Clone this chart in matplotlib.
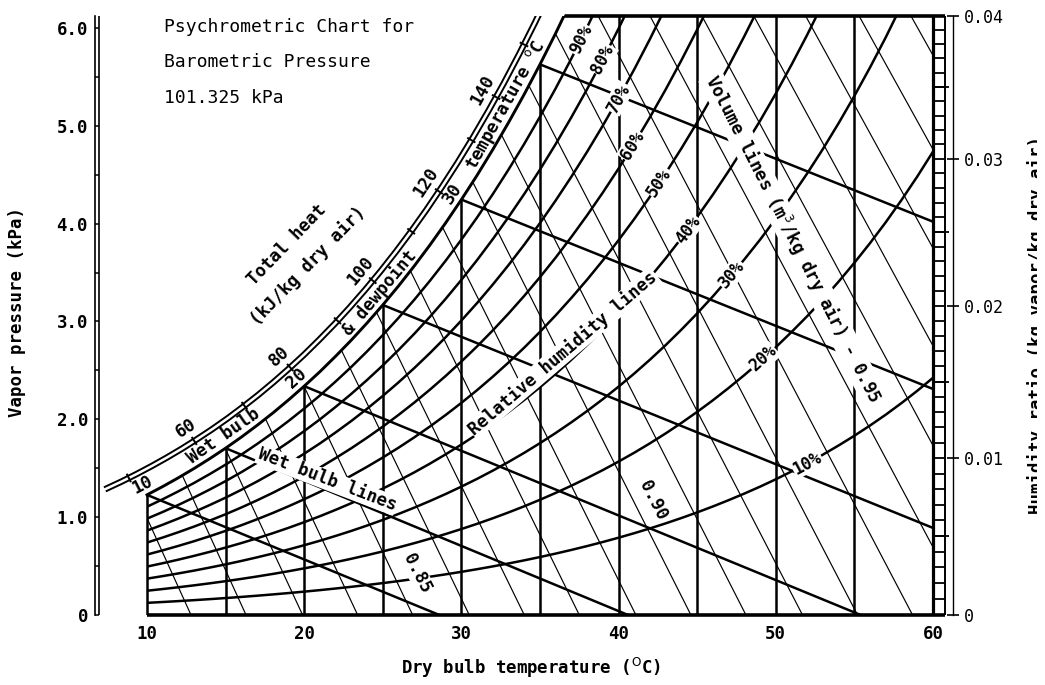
import numpy as np
import matplotlib.pyplot as plt
from matplotlib.patches import Polygon
from matplotlib.transforms import Bbox

plt.rcParams['font.family'] = ['DejaVu Sans Mono', 'DejaVu Sans']
plt.rcParams['mathtext.fontset'] = 'dejavusans'

P_ATM = 101.325  # kPa, barometric pressure of the chart

# saturation (100 %) vapour pressure along the top curve, kPa
sat_temp_c = np.arange(7, 61)
sat_kpa = np.array([1.002, 1.073, 1.148, 1.228, 1.313, 1.403, 1.498, 1.599, 1.705, 1.818,
                    1.938, 2.064, 2.198, 2.339, 2.487, 2.645, 2.810, 2.985, 3.169, 3.363,
                    3.567, 3.782, 4.008, 4.246, 4.495, 4.758, 5.034, 5.323, 5.628, 5.947,
                    6.282, 6.632, 6.999, 7.384, 7.786, 8.208, 8.649, 9.112, 9.595, 10.10,
                    10.63, 11.18, 11.75, 12.35, 12.98, 13.63, 14.31, 15.02, 15.76, 16.53,
                    17.33, 18.17, 19.04, 19.95])

rh_percent = [10, 20, 30, 40, 50, 60, 70, 80, 90]
rh_label_c = [52.0, 49.2, 47.2, 44.4, 42.6, 40.9, 40.0, 39.0, 37.6]

dry_bulb_c = [10, 15, 20, 25, 30, 35, 40, 45, 50, 55, 60]

wet_bulb_c = [10, 15, 20, 25, 30, 35]
wet_bulb_end_c = [28.6, 40.6, 55.4, 60.0, 60.0, 60.0]
wet_bulb_end_kpa = [0.0, 0.0, 0.0, 0.89, 2.31, 4.02]

volume_m3 = [0.81, 0.82, 0.83, 0.84, 0.85, 0.86, 0.87, 0.88, 0.89, 0.90,
             0.91, 0.92, 0.93, 0.94, 0.95, 0.96, 0.97, 0.98, 0.99, 1.00]
volume_bottom_c = [12.8, 16.3, 19.9, 23.4, 26.9, 30.5, 34.0, 37.5, 41.1, 44.6,
                   48.1, 51.7, 55.2, 58.7, 62.3, 65.8, 69.3, 72.8, 76.4, 79.9]
volume_top_c = [-4.5, -1.1, 2.2, 5.5, 8.8, 12.1, 15.4, 18.8, 22.1, 25.4,
                28.7, 32.0, 35.4, 38.7, 42.0, 45.3, 48.6, 51.9, 55.3, 58.6]

# total heat scale: kJ/kg and the dew point it sits beside
heat_kj = [50, 60, 70, 80, 90, 100, 110, 120, 130, 140, 150]
heat_at_c = [9.5, 13.8, 17.1, 20.1, 23.2, 25.5, 28.0, 29.8, 31.9, 33.5, 35.3]

dew_c = [10, 20, 30]

kpa_ticks = [0, 1, 2, 3, 4, 5, 6]
kpa_labels = ['0', '1.0', '2.0', '3.0', '4.0', '5.0', '6.0']
ratio_ticks = [0, 0.01, 0.02, 0.03, 0.04]
ratio_labels = ['0', '0.01', '0.02', '0.03', '0.04']


def ratio_to_kpa(w):
    w = np.asarray(w, dtype=float)
    return P_ATM * w / (0.622 + w)


def kpa_to_ratio(p):
    p = np.asarray(p, dtype=float)
    return 0.622 * p / (P_ATM - p)


P_TOP = float(ratio_to_kpa(0.04))
sat_at = dict(zip(sat_temp_c.tolist(), sat_kpa))

W, H = 1045, 685
fig = plt.figure(figsize=(W / 100, H / 100), dpi=100)


def fx(x):
    return x / W


def fy(y):
    return 1 - y / H


X10, X60 = 147, 933


def tc(px):
    return 10 + (px - X10) * 50 / (X60 - X10)


L, R, B, T = 95, 953, 615, 16
ax = fig.add_axes([fx(L), fy(B), (R - L) / W, (B - T) / H])
ax.set_xlim(tc(L), tc(R))
ax.set_ylim(0, P_TOP)
for s in ['top', 'bottom', 'right']:
    ax.spines[s].set_visible(False)
ax.spines['left'].set_linewidth(1.2)

K = 'black'
THICK = 1.8
THIN = 0.85

# clip region: right of / below the saturation curve
edge = (sat_temp_c >= 10) & (sat_temp_c <= 40)
et, ep = sat_temp_c[edge], sat_kpa[edge]
chart = Polygon(np.column_stack([np.r_[10, et, 60, 60], np.r_[0, ep, ep[-1], 0]]),
                transform=ax.transData)
wide = Polygon(np.column_stack([np.r_[10, et, 63, 63], np.r_[-1, ep, ep[-1], -1]]),
               transform=ax.transData)

# relative humidity curves
sat_ratio = kpa_to_ratio(sat_kpa)
rh_kpa = {}
for rh in rh_percent:
    p = ratio_to_kpa(rh / 100 * sat_ratio)
    line, = ax.plot(sat_temp_c, p, color=K, lw=THICK)
    line.set_clip_path(chart)
    rh_kpa[rh] = p

on_chart = sat_temp_c >= 10
ax.plot(sat_temp_c[on_chart], sat_kpa[on_chart], color=K, lw=THICK + 0.3)

# dry bulb verticals
vl = ax.vlines(dry_bulb_c[1:-1], 0, P_TOP, color=K, lw=THICK)
vl.set_clip_path(chart)
ax.vlines(10, 0, sat_at[10], color=K, lw=THICK)
ax.vlines(60, 0, P_TOP, color=K, lw=THICK + 0.5, clip_on=False)

# wet bulb lines
for tw, te, pe in zip(wet_bulb_c, wet_bulb_end_c, wet_bulb_end_kpa):
    line, = ax.plot([tw, te], [sat_at[tw], pe], color=K, lw=THICK)
    line.set_clip_path(chart)

# volume lines
for tt, tb in zip(volume_top_c, volume_bottom_c):
    line, = ax.plot([tt, tb], [P_TOP, 0], color=K, lw=THIN)
    line.set_clip_path(chart)

# frame of the chart
ax.hlines(0, 10, tc(945), color=K, lw=2.6, clip_on=False)
top = ax.hlines(P_TOP, 10, tc(945), color=K, lw=2.6)
top.set_clip_path(wide)
top.set_clip_box(None)

# humidity ratio ladder
ax.vlines(tc(945), 0, P_TOP, color=K, lw=1.4, clip_on=False)
ax.hlines(ratio_to_kpa(np.arange(0, 0.0405, 0.001)), 60, tc(945), color=K, lw=1.3, clip_on=False)
ax.hlines(ratio_to_kpa([0.005, 0.015, 0.025, 0.035]), 60, tc(949), color=K, lw=1.3, clip_on=False)

# second rail of the left axis
ax.vlines(tc(99), 0, P_TOP, color=K, lw=1.2)

ax.set_yticks(kpa_ticks, kpa_labels)
ax.set_yticks(np.arange(0.5, 6.0, 1.0), minor=True)
ax.tick_params(axis='y', which='both', direction='in', length=3, width=1.1, pad=5, labelsize=12.5)
ax.set_xticks(dry_bulb_c[::2])
ax.tick_params(axis='x', length=0, pad=7, labelsize=12.5)
for lab in ax.get_xticklabels() + ax.get_yticklabels():
    lab.set_fontweight('bold')

sec = ax.secondary_yaxis('right', functions=(kpa_to_ratio, ratio_to_kpa))
sec.set_yticks(ratio_ticks, ratio_labels)
sec.yaxis.set_minor_locator(plt.NullLocator())
sec.tick_params(direction='inout', length=9, width=1.2, pad=3, labelsize=12)
sec.spines['right'].set_linewidth(1.0)

# double line of the total heat scale, offset from the saturation curve
band = (sat_temp_c >= 8) & (sat_temp_c <= 40)
bt = sat_temp_c[band]
pts = ax.transData.transform(np.column_stack([bt, sat_kpa[band]]))
tan = np.gradient(pts, axis=0)
tan /= np.hypot(tan[:, 0], tan[:, 1])[:, None]
nrm = np.column_stack([-tan[:, 1], tan[:, 0]])
to_data = ax.transData.inverted()

for dist in (21, 25.5):
    xy = to_data.transform(pts + dist * nrm)
    ax.plot(xy[:, 0], xy[:, 1], color=K, lw=1.4)


def band_point(t, dist):
    x = np.interp(t, bt, pts[:, 0]) + dist * np.interp(t, bt, nrm[:, 0])
    y = np.interp(t, bt, pts[:, 1]) + dist * np.interp(t, bt, nrm[:, 1])
    ang = np.degrees(np.arctan2(np.interp(t, bt, tan[:, 1]), np.interp(t, bt, tan[:, 0])))
    return x, y, ang


def put(x, y, s, ang=0, size=12.5, weight='bold', box=False):
    kw = dict(rotation=ang, rotation_mode='anchor', ha='center', va='center',
              fontsize=size, fontweight=weight)
    if box:
        kw['bbox'] = dict(fc='white', ec='none', pad=0.6)
    return fig.text(x / W, y / H, s, **kw)


for kj, t in zip(heat_kj, heat_at_c):
    x0, y0, _ = band_point(t, 19.5)
    x1, y1, _ = band_point(t, 27)
    seg = to_data.transform([[x0, y0], [x1, y1]])
    ax.plot(seg[:, 0], seg[:, 1], color=K, lw=1.4)
    if kj % 20 == 0:
        x, y, ang = band_point(t, 39)
        put(x, y, str(kj), ang)

for t in dew_c:
    x, y, ang = band_point(t, 11)
    put(x, y, str(t), ang)
for s, t in [('Wet bulb', 15.3), ('& dewpoint', 25.3), ('temperature $^{\\mathrm{o}}$C', 33.4)]:
    x, y, ang = band_point(t, 11)
    put(x, y, s, ang)

# percent labels sit in gaps of their curves
for rh, t in zip(rh_percent, rh_label_c):
    cp = ax.transData.transform(np.column_stack([sat_temp_c, rh_kpa[rh]]))
    g = np.gradient(cp, axis=0)
    x = np.interp(t, sat_temp_c, cp[:, 0])
    y = np.interp(t, sat_temp_c, cp[:, 1])
    ang = np.degrees(np.arctan2(np.interp(t, sat_temp_c, g[:, 1]), np.interp(t, sat_temp_c, g[:, 0])))
    put(x, y, f'{rh}%', ang, size=12, box=True)

# free text, placed in picture pixels (y down)
put(287, H - 245, 'Total heat', 46)
put(308, H - 266, '(kJ/kg dry air)', 46)
put(327, H - 480, 'Wet bulb lines', -21, box=True)
put(563, H - 353, 'Relative humidity lines', 40.5, box=True)
put(793, H - 239, 'Volume lines (m$^3$/kg dry air) - 0.95', -63, box=True)
put(653, H - 500, '0.90', -63, box=True)
put(417, H - 573, '0.85', -63, box=True)

for y, s in [(27, 'Psychrometric Chart for'), (62, 'Barometric Pressure'), (98, '101.325 kPa')]:
    fig.text(fx(164), fy(y), s, ha='left', va='center', fontsize=13)

fig.text(fx(17), fy(312), 'Vapor pressure (kPa)', rotation=90, ha='center', va='center',
         fontsize=12.5, fontweight='bold')
fig.text(fx(531), fy(668), 'Dry bulb temperature ($^{\\mathrm{O}}$C)', ha='center', va='center',
         fontsize=12.5, fontweight='bold')
side = fig.text(fx(1027), fy(325), 'Humidity ratio (kg vapor/kg dry air)', rotation=90,
                ha='left', va='center', fontsize=12.5, fontweight='bold')
side.set_clip_box(Bbox.from_extents(0, 0, 1037, H))

fig.savefig('out.png', dpi=100, facecolor='white')
